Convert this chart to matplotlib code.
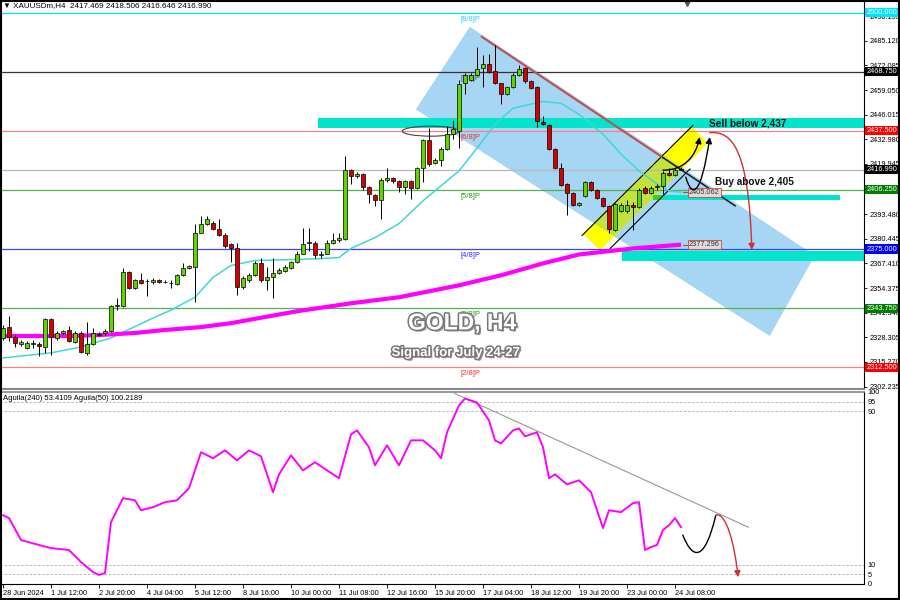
import numpy as np
import matplotlib.pyplot as plt
import matplotlib.patheffects as pe
from matplotlib.patches import Polygon, Rectangle, Ellipse, FancyArrowPatch
from matplotlib.path import Path

plt.rcParams['font.family'] = ['Liberation Sans', 'DejaVu Sans']

# XAUUSDm H4 candles, 28 Jun 2024 .. 24 Jul 2024 12:00
opens = [
    2328.0, 2333.7, 2328.5, 2324.8, 2322.7, 2324.8, 2324.8, 2323.2, 2337.9, 2328.0,
    2330.6, 2332.2, 2325.8, 2330.6, 2320.1, 2324.8, 2329.5, 2330.6, 2331.6, 2344.8,
    2344.8, 2362.6, 2354.2, 2358.4, 2357.9, 2357.4, 2358.4, 2357.4, 2356.8, 2356.3,
    2361.1, 2364.7, 2365.3, 2383.7, 2388.4, 2388.9, 2385.8, 2382.6, 2377.9, 2375.3,
    2354.8, 2358.4, 2361.1, 2367.4, 2358.4, 2360.0, 2362.1, 2363.2, 2364.7, 2367.9,
    2372.6, 2378.4, 2378.4, 2371.6, 2372.6, 2378.4, 2379.5, 2380.5, 2416.8, 2413.6,
    2414.7, 2407.8, 2403.6, 2401.0, 2411.5, 2412.6, 2411.0, 2407.8, 2411.0, 2407.3,
    2417.8, 2432.5, 2420.5, 2422.0, 2427.8, 2435.7, 2437.3, 2462.5, 2464.6, 2467.2,
    2470.9, 2473.0, 2469.3, 2462.5, 2456.7, 2460.4, 2467.2, 2470.9, 2463.6, 2460.4,
    2442.0, 2440.4, 2427.8, 2417.8, 2409.4, 2404.7, 2398.4, 2403.1, 2410.5, 2406.3,
    2402.1, 2397.9, 2385.2, 2395.2, 2395.2, 2398.4, 2397.3, 2407.3, 2404.7, 2407.8,
    2408.4, 2415.2, 2414.1, 2417.469]
highs = [
    2334.8, 2339.5, 2329.5, 2326.9, 2326.4, 2326.9, 2325.8, 2338.5, 2338.5, 2331.6,
    2332.2, 2334.3, 2331.6, 2331.6, 2336.4, 2333.2, 2331.0, 2332.7, 2345.3, 2349.0,
    2364.7, 2363.2, 2359.0, 2362.1, 2359.0, 2359.5, 2359.0, 2358.4, 2358.4, 2361.6,
    2367.4, 2366.8, 2388.4, 2392.6, 2392.6, 2390.0, 2391.0, 2383.2, 2378.4, 2378.4,
    2360.5, 2362.1, 2368.4, 2370.5, 2365.3, 2370.5, 2364.7, 2366.3, 2368.9, 2373.7,
    2386.3, 2386.3, 2379.0, 2373.7, 2379.5, 2383.2, 2383.7, 2424.1, 2417.3, 2415.7,
    2415.2, 2408.4, 2404.2, 2412.6, 2417.8, 2413.1, 2411.5, 2411.5, 2411.5, 2418.4,
    2433.0, 2438.8, 2423.0, 2428.8, 2439.9, 2443.1, 2464.1, 2468.3, 2468.3, 2481.9,
    2477.7, 2478.3, 2483.0, 2463.0, 2461.0, 2467.8, 2472.5, 2471.4, 2464.1, 2461.0,
    2445.2, 2440.9, 2428.3, 2420.5, 2410.0, 2405.2, 2400.0, 2411.0, 2411.0, 2406.8,
    2402.6, 2398.4, 2399.4, 2399.4, 2401.0, 2400.0, 2407.3, 2408.4, 2408.4, 2409.4,
    2416.3, 2417.8, 2417.8, 2418.506]
lows = [
    2326.9, 2326.4, 2323.2, 2323.7, 2322.0, 2322.7, 2318.5, 2320.1, 2319.0, 2327.0,
    2330.0, 2325.8, 2325.3, 2320.1, 2319.0, 2324.3, 2329.0, 2329.5, 2331.0, 2342.7,
    2344.3, 2353.7, 2353.7, 2356.3, 2350.0, 2356.3, 2356.8, 2356.8, 2354.2, 2355.8,
    2360.5, 2364.2, 2346.9, 2383.2, 2387.9, 2385.2, 2382.1, 2375.3, 2367.9, 2350.5,
    2353.7, 2357.4, 2360.5, 2357.4, 2353.2, 2349.0, 2361.6, 2362.6, 2364.2, 2367.4,
    2372.1, 2374.2, 2370.0, 2370.5, 2372.1, 2377.9, 2378.9, 2379.5, 2409.4, 2412.6,
    2406.3, 2399.4, 2397.9, 2391.0, 2410.5, 2410.0, 2405.2, 2404.2, 2401.5, 2406.8,
    2410.5, 2419.0, 2419.9, 2418.9, 2427.3, 2433.0, 2428.3, 2456.7, 2464.0, 2466.6,
    2460.9, 2468.3, 2462.0, 2451.5, 2456.2, 2459.9, 2466.6, 2463.0, 2459.4, 2439.4,
    2440.4, 2427.3, 2417.3, 2408.4, 2393.1, 2397.9, 2397.9, 2402.6, 2405.8, 2401.5,
    2397.3, 2383.7, 2384.7, 2394.7, 2394.2, 2385.2, 2396.8, 2404.2, 2404.2, 2406.3,
    2404.2, 2413.6, 2413.6, 2416.646]
closes = [
    2333.2, 2328.5, 2325.3, 2325.8, 2325.3, 2325.0, 2323.7, 2337.9, 2328.5, 2330.6,
    2331.6, 2326.4, 2330.6, 2320.6, 2324.8, 2330.6, 2330.1, 2331.6, 2344.8, 2345.0,
    2362.6, 2354.2, 2358.4, 2356.8, 2358.0, 2358.4, 2357.4, 2357.5, 2356.9, 2361.1,
    2364.7, 2365.8, 2383.7, 2388.4, 2391.0, 2385.8, 2382.6, 2376.8, 2375.3, 2354.8,
    2359.5, 2361.1, 2367.4, 2358.4, 2360.0, 2362.1, 2363.7, 2365.3, 2367.9, 2372.6,
    2377.9, 2378.6, 2371.6, 2372.6, 2378.4, 2379.5, 2381.0, 2416.8, 2413.6, 2414.7,
    2407.8, 2404.2, 2401.0, 2411.5, 2412.6, 2411.0, 2407.8, 2411.0, 2407.3, 2417.8,
    2432.5, 2419.9, 2422.0, 2427.8, 2435.7, 2438.3, 2462.0, 2467.2, 2467.2, 2470.4,
    2473.0, 2468.8, 2462.5, 2456.7, 2460.4, 2467.2, 2470.4, 2463.6, 2459.9, 2442.5,
    2440.9, 2427.8, 2417.8, 2408.9, 2404.7, 2398.4, 2399.4, 2410.5, 2406.3, 2402.1,
    2397.9, 2385.8, 2398.9, 2398.4, 2398.4, 2397.3, 2406.3, 2404.7, 2407.3, 2408.0,
    2415.2, 2414.1, 2416.8, 2416.990]

# moving averages (bar index, price)
ema_idx = [0, 8, 13, 18, 25, 28, 32, 35, 38, 42, 48, 53, 56, 58, 62, 66, 70, 73,
           76, 79, 82, 85, 90, 93, 96, 100, 103, 106, 109, 111, 113]
ema_val = [2317.4, 2320.1, 2323.2, 2328.0, 2338.5, 2342.7, 2349.5, 2360.0, 2366.3,
           2368.9, 2369.4, 2369.9, 2370.5, 2375.3, 2381.0, 2388.4, 2400.5, 2408.4,
           2416.3, 2428.3, 2440.9, 2449.4, 2453.0, 2452.0, 2446.2, 2435.7, 2425.2,
           2416.3, 2409.4, 2405.7, 2405.06]
ma200_idx = [0, 11, 16, 22, 27, 33, 38, 49, 58, 66, 76, 83, 90, 96, 105, 113]
ma200_val = [2329.0, 2329.0, 2329.5, 2330.6, 2332.2, 2333.7, 2335.8, 2342.1, 2346.3,
             2349.5, 2355.8, 2361.1, 2367.4, 2372.1, 2375.3, 2377.3]

# Aguila oscillator
osc_idx = [0, 1, 3, 6, 8, 11, 13, 15, 16, 17, 18, 20, 22, 23, 25, 27, 29, 31, 33,
           35, 37, 39, 41, 43, 45, 46, 48, 50, 52, 54, 56, 58, 59, 61, 62, 64, 66,
           68, 70, 72, 73, 74, 76, 77, 79, 81, 82, 83, 85, 86, 87, 89, 90, 91, 92,
           94, 96, 98, 100, 101, 103, 105, 106, 107, 108, 109, 110, 111, 112, 113]
osc_val = [35.8, 34.3, 22.9, 20.3, 18.7, 17.7, 11.4, 6.2, 4.7, 5.7, 32.2, 44.7,
           43.6, 38.4, 40.0, 42.6, 43.6, 49.9, 68.6, 65.5, 69.6, 64.4, 69.6, 66.5,
           47.8, 57.1, 67.0, 59.2, 63.4, 59.2, 55.1, 77.9, 80.0, 71.2, 61.8, 72.2,
           61.8, 74.8, 74.8, 69.6, 65.5, 79.0, 93.0, 96.6, 94.5, 85.2, 74.8, 73.2,
           80.0, 81.0, 76.9, 79.0, 71.2, 55.1, 57.1, 51.9, 54.0, 47.8, 29.1, 38.4,
           37.4, 42.1, 42.6, 17.7, 19.2, 20.3, 28.1, 30.6, 34.3, 29.6]

# Murrey levels
levels = [2500.0, 2468.75, 2437.5, 2406.25, 2375.0, 2343.75, 2312.5]
level_names = ['[8/8]P', '[7/8]P', '[6/8]P', '[5/8]P', '[4/8]P', '[3/8]P', '[2/8]P']
level_line_colors = ['#00e0f0', '#333333', '#ff8080', '#55b055', '#4040ff', '#55b055', '#ff8080']
level_text_colors = ['#33ccff', '#555555', '#e03030', '#229922', '#3030ff', '#229922', '#ff3030']
level_box_colors = ['#00e5ff', '#000000', '#ff0000', '#008000', '#0000ff', '#008000', '#ff0000']
last_price = 2416.990

price_ticks = [2302.235, 2315.270, 2328.305, 2341.340, 2354.375, 2367.410, 2380.445,
               2393.480, 2419.945, 2432.980, 2446.015, 2459.050, 2472.085, 2485.120,
               2498.155]

xtick_labels = ['28 Jun 2024', '1 Jul 12:00', '2 Jul 20:00', '4 Jul 04:00', '5 Jul 12:00',
                '8 Jul 16:00', '10 Jul 00:00', '11 Jul 08:00', '12 Jul 16:00', '15 Jul 20:00',
                '17 Jul 04:00', '18 Jul 12:00', '19 Jul 20:00', '23 Jul 00:00', '24 Jul 08:00']

n = len(opens)
x = np.arange(n)
o = np.array(opens); c = np.array(closes)
h = np.array(highs); l = np.array(lows)

fig = plt.figure(figsize=(9, 6), dpi=100)
ax = fig.add_axes([0.0, 0.3517, 0.96, 0.6466])
osc = fig.add_axes([0.0, 0.0267, 0.96, 0.32])

ax.set_xlim(-0.5, 143.5)
ax.set_ylim(2301.0, 2506.1)
osc.set_xlim(-0.5, 143.5)
osc.set_ylim(0, 100)

# blue falling channel + yellow rising channel
blue = Polygon([(77.8, 2492.5), (68.8, 2448.8), (127.8, 2329.0), (135.3, 2371.6)],
               closed=True, fc='#a6d6f3', ec='none', zorder=1)
ax.add_patch(blue)
yel_pts = [(96.7, 2383.1), (99.5, 2374.2), (117.5, 2431.0), (114.7, 2439.9)]
ax.add_patch(Polygon(yel_pts, closed=True, fc='#ffff00', ec='none', zorder=1.1))
over = Polygon(yel_pts, closed=True, fc='#c4e23c', ec='none', zorder=1.2)
ax.add_patch(over)
over.set_clip_path(blue)
ax.plot([96.5, 115.0], [2382.1, 2440.4], color='black', lw=0.8, zorder=3)
ax.plot([101.2, 114.5], [2375.3, 2417.3], color='black', lw=0.8, zorder=3)

# cyan zones
ax.add_patch(Rectangle((52.5, 2438.8), 91, 5.4, fc='#00e5cc', ec='none', zorder=1.5))
ax.add_patch(Rectangle((109.5, 2400.9), 30, 2.6, fc='#00e5cc', ec='none', zorder=1.5))
ax.add_patch(Rectangle((108.3, 2400.9), 1.6, 2.6, fc='#33cc33', ec='none', zorder=1.6))
ax.add_patch(Rectangle((103.2, 2368.6), 40.3, 5.3, fc='#00e5cc', ec='none', zorder=1.5))

# level lines
ytr = ax.get_yaxis_transform()
for lv, name, lc, tc, bc in zip(levels, level_names, level_line_colors,
                                level_text_colors, level_box_colors):
    ax.axhline(lv, color=lc, lw=0.9, zorder=2)
    ax.text(76.2, lv - 1.6, name, color=tc, fontsize=5.5, va='top', ha='left', zorder=4)
    ax.text(1.003, lv, f'{lv:.3f}', transform=ytr, color='white', fontsize=5.3,
            va='center', ha='left', zorder=10, clip_on=False,
            bbox=dict(boxstyle='square,pad=0.15', fc=bc, ec='none'))
ax.axhline(last_price, color='#b8b8b8', lw=0.9, zorder=2)
ax.text(1.003, last_price, f'{last_price:.3f}', transform=ytr, color='white', fontsize=5.3,
        va='center', ha='left', zorder=10, clip_on=False,
        bbox=dict(boxstyle='square,pad=0.15', fc='black', ec='none'))

# moving averages
ax.plot(ema_idx, ema_val, color='#40d8d0', lw=1.1, zorder=3)
ax.plot(ma200_idx, ma200_val, color='#ff00ff', lw=3, zorder=3, solid_capstyle='butt')

# descending resistance line
ax.plot([79.8, 110.0], [2487.2, 2423.3], color='#c0504d', lw=1.5, zorder=3)
ax.plot([110.0, 122.0], [2423.3, 2397.9], color='#222222', lw=1.2, zorder=3)

# breakout ellipse
ax.add_patch(Ellipse((71.3, 2437.3), 9.5, 5.3, fill=False, ec='#444444', lw=0.8, zorder=4))

# candles
up = c >= o
ax.vlines(x, l, h, color='black', lw=0.7, zorder=5)
body_lo = np.minimum(o, c)
body_h = np.maximum(np.abs(c - o), 0.35)
ax.bar(x, body_h, bottom=body_lo, width=0.6, color=np.where(up, '#5fd400', '#d40000'),
       edgecolor='black', linewidth=0.5, zorder=6)

# value tags at MA ends
for val, yy in [(2405.062, 2405.06), (2377.296, 2377.3)]:
    ax.plot([113.3, 114.2], [yy, yy], color='#d04040', lw=0.8, zorder=7)
    ax.text(114.3, yy, f'{val:.3f}', color='#333333', fontsize=5.3, va='center', ha='left',
            zorder=8, bbox=dict(boxstyle='square,pad=0.15', fc='#dcdcdc', ec='#d04040', lw=0.6))


def bez(axis, pts, color, head=True, lw=1.0):
    codes = [Path.MOVETO, Path.CURVE4, Path.CURVE4, Path.CURVE4]
    arr = FancyArrowPatch(path=Path(pts, codes), arrowstyle='-|>' if head else '-',
                          mutation_scale=9, color=color, lw=lw, zorder=9)
    axis.add_patch(arr)


bez(ax, [(110, 2416.7), (113.5, 2416.5), (115.5, 2424), (116.1, 2434.2)], 'black')
bez(ax, [(113.8, 2413.0), (114.8, 2402), (116.3, 2402), (117.8, 2434.2)], 'black')
bez(ax, [(117.8, 2436.5), (121.5, 2437.5), (124.3, 2428), (124.8, 2374.5)], '#d03030')

ax.text(117.6, 2441.1, 'Sell below 2,437', fontsize=7.2, fontweight='bold', va='center',
        ha='left', color='#111111', zorder=9)
ax.text(118.7, 2410.4, 'Buy above 2,405', fontsize=7.2, fontweight='bold', va='center',
        ha='left', color='#111111', zorder=9)

shadow = [pe.SimplePatchShadow(offset=(1.5, -1.5), shadow_rgbFace='#555555', alpha=0.6),
          pe.Stroke(linewidth=2.2, foreground='#777777'), pe.Normal()]
ax.text(76.5, 2335.9, 'GOLD, H4', fontsize=16.5, fontweight='bold', color='white',
        ha='center', va='center', zorder=9, path_effects=shadow)
ax.text(75.5, 2320.0, 'Signal for July 24-27', fontsize=9.5, fontweight='bold', color='white',
        ha='center', va='center', zorder=9, path_effects=shadow)

ax.text(0.004, 0.997, '▼ XAUUSDm,H4  2417.469 2418.506 2416.646 2416.990',
        transform=ax.transAxes, fontsize=5.8, va='top', ha='left', zorder=10)
ax.plot([114.0], [2505.3], marker='v', color='#555555', ms=5, clip_on=False, zorder=10)

# axes cosmetics (main)
ax.yaxis.tick_right()
ax.set_yticks(price_ticks)
ax.set_yticklabels([f'{t:.3f}' for t in price_ticks])
ax.tick_params(axis='y', labelsize=5.3, length=2.5, width=0.6, pad=1.5)
ax.set_xticks([])
for side in ['left', 'top']:
    ax.spines[side].set_visible(False)
ax.spines['right'].set_color('black')
ax.spines['bottom'].set_color('#888888')
ax.spines['bottom'].set_linewidth(1.5)

# oscillator
for lv in [5, 10, 90, 95]:
    osc.axhline(lv, color='#b0b0b0', lw=0.6, ls=(0, (3, 2)), zorder=1)
osc.plot(osc_idx, osc_val, color='#ff00ff', lw=1.4, zorder=3)
osc.plot([75.3, 124.2], [99.2, 29.6], color='#999999', lw=0.8, zorder=2)
bez(osc, [(113.3, 25.5), (115.0, 12), (117.0, 12), (118.8, 35.8)], 'black', head=False)
bez(osc, [(118.8, 35.8), (120.5, 38), (122.0, 20), (122.5, 3.5)], '#d03030')
osc.text(0.004, 0.985, 'Aguila(240) 53.4109 Aguila(50) 100.2189', transform=osc.transAxes,
         fontsize=5.5, va='top', ha='left')
osc.yaxis.tick_right()
osc.set_yticks([0, 5, 10, 90, 95, 100])
osc.set_yticklabels(['0', '5', '10', '90', '95', '100'])
osc.tick_params(axis='y', labelsize=5.3, length=0, pad=2.5)
osc.set_xticks(range(0, 8 * len(xtick_labels), 8))
osc.set_xticklabels(xtick_labels, ha='left')
osc.tick_params(axis='x', labelsize=5.3, length=3, width=0.6, pad=1.5)
osc.spines['left'].set_visible(False)
osc.spines['top'].set_color('#888888')
osc.spines['top'].set_linewidth(1.2)

# outer frame
fig.add_artist(Rectangle((0.001, 0.002), 0.998, 0.996, transform=fig.transFigure,
                         fill=False, ec='black', lw=1.5))

fig.savefig('out.png', dpi=100)
